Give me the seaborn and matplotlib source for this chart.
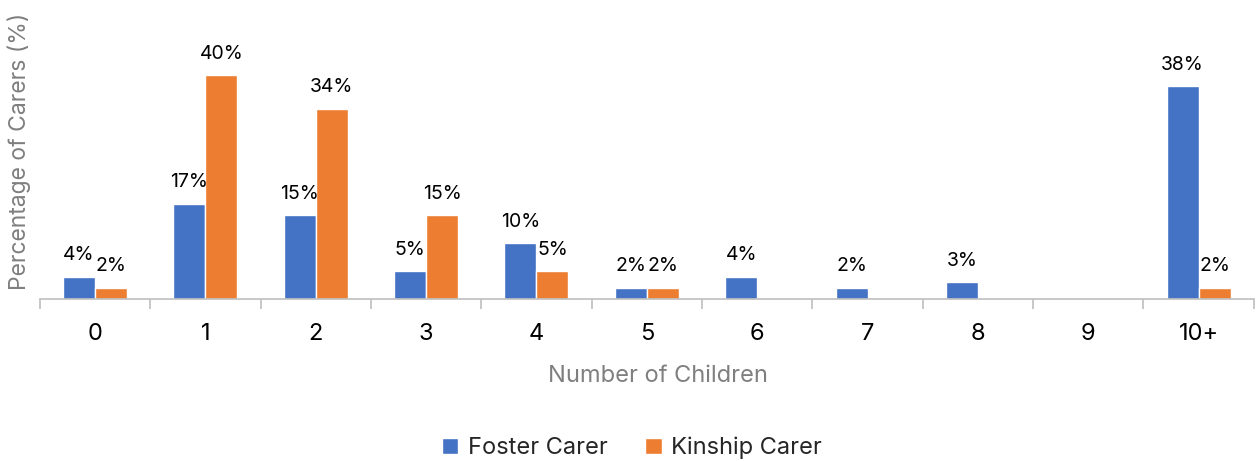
import matplotlib
matplotlib.use("Agg")
import matplotlib.pyplot as plt
import seaborn as sns
import pandas as pd
from matplotlib.ticker import FixedLocator

# Share of carers by number of children looked after
categories = ["0", "1", "2", "3", "4", "5", "6", "7", "8", "9", "10+"]
foster_pct = [4, 17, 15, 5, 10, 2, 4, 2, 3, 0, 38]
kinship_pct = [2, 40, 34, 15, 5, 2, 0, 0, 0, 0, 2]
series_names = ["Foster Carer", "Kinship Carer"]

df = pd.DataFrame({
    "children": categories * 2,
    "pct": foster_pct + kinship_pct,
    "carer": [series_names[0]] * len(categories) + [series_names[1]] * len(categories),
})

sns.set_theme(style="white")
plt.rcParams["font.family"] = ["Inter", "DejaVu Sans"]

fig = plt.figure(figsize=(12.56, 4.61), dpi=100)
ax = fig.add_axes([0.0318, 0.3514, 0.9664, 0.5466])

palette = {"Foster Carer": "#4472C4", "Kinship Carer": "#ED7D31"}
sns.barplot(data=df, x="children", y="pct", hue="carer", order=categories,
            hue_order=series_names, palette=palette, width=0.58,
            saturation=1, ax=ax, legend=True, errorbar=None)

for container in ax.containers:
    labels = [f"{v:.0f}%" if v > 0 else "" for v in container.datavalues]
    ax.bar_label(container, labels=labels, padding=9, fontsize=14, color="#000000")

ax.set_xlim(-0.5, len(categories) - 0.5)
ax.set_ylim(0, 45)

for side in ["top", "right", "left"]:
    ax.spines[side].set_visible(False)
ax.spines["bottom"].set_color("#BFBFBF")
ax.spines["bottom"].set_linewidth(1.2)

ax.set_yticks([])
ax.tick_params(axis="x", which="major", length=0, pad=17, labelsize=17, labelcolor="#000000")
ax.xaxis.set_minor_locator(FixedLocator([i - 0.5 for i in range(len(categories) + 1)]))
ax.tick_params(axis="x", which="minor", length=7, width=1.2, color="#BFBFBF", bottom=True)

ax.set_xlabel("Number of Children", fontsize=17, color="#7F7F7F")
ax.xaxis.set_label_coords(0.509, -0.26)
ax.set_ylabel("Percentage of Carers (%)", fontsize=16.5, color="#7F7F7F")
ax.yaxis.set_label_coords(-0.007, 0.587)

handles, labels = ax.get_legend_handles_labels()
ax.legend(handles, labels, loc="center", bbox_to_anchor=(0.4877, -0.592), ncol=2,
          frameon=False, fontsize=17, handlelength=0.7, handleheight=0.7,
          handletextpad=0.4, columnspacing=1.6)

fig.savefig("out.png", dpi=100)
